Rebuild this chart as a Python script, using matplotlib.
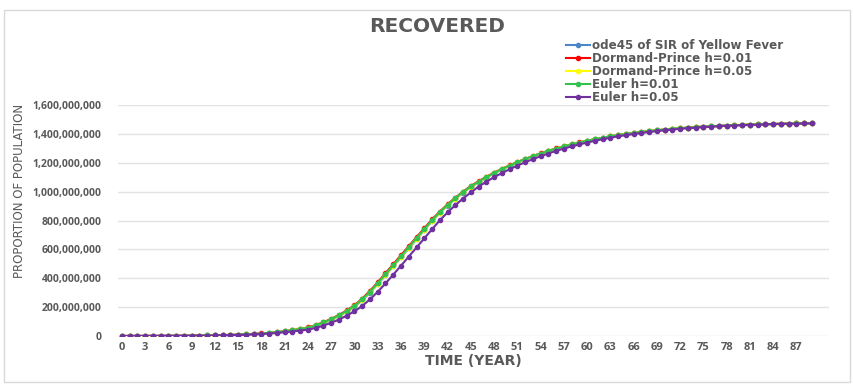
import numpy as np
import matplotlib.pyplot as plt
from matplotlib.patches import Rectangle

# time steps (years)
time = list(range(90))

# recovered, in millions of people
ode45 = [0.3, 0.4, 0.5, 0.6, 0.8, 1.0, 1.3, 1.6, 2.0, 2.5,
         3.1, 3.9, 4.8, 6.0, 7.4, 9.2, 11, 14, 17, 21,
         26, 32, 39, 46, 55, 70, 90, 112, 138, 168,
         203, 247, 300, 358, 420, 482, 545, 607, 670, 733,
         795, 851, 902, 949, 992, 1032, 1065, 1097, 1126, 1153,
         1178, 1201, 1223, 1243, 1262, 1280, 1297, 1312, 1326, 1339,
         1351, 1362, 1372, 1382, 1391, 1399, 1406, 1413, 1419, 1425,
         1430, 1435, 1439, 1443, 1447, 1450, 1453, 1455, 1458, 1460,
         1462, 1464, 1466, 1467, 1469, 1470, 1471, 1472, 1473, 1474]
dp_001 = [0.3, 0.4, 0.5, 0.6, 0.8, 1.0, 1.3, 1.7, 2.1, 2.6,
          3.2, 4.0, 5.0, 6.2, 7.7, 9.6, 12, 15, 18, 22,
          27, 34, 41, 49, 59, 75, 96, 119, 146, 177,
          213, 259, 313, 372, 435, 497, 560, 622, 684, 746,
          807, 862, 912, 958, 1000, 1039, 1072, 1103, 1131, 1158,
          1182, 1205, 1226, 1246, 1265, 1283, 1299, 1314, 1328, 1341,
          1353, 1363, 1373, 1383, 1392, 1400, 1407, 1413, 1419, 1425,
          1430, 1435, 1439, 1443, 1447, 1450, 1453, 1455, 1458, 1460,
          1462, 1464, 1466, 1467, 1469, 1470, 1471, 1472, 1473, 1474]
dp_005 = [0.3, 0.4, 0.5, 0.6, 0.8, 1.0, 1.3, 1.6, 2.0, 2.5,
          3.1, 3.9, 4.9, 6.1, 7.5, 9.3, 11, 14, 17, 21,
          26, 33, 40, 47, 56, 72, 92, 114, 140, 171,
          206, 251, 304, 362, 424, 486, 549, 611, 674, 736,
          798, 854, 905, 952, 995, 1034, 1067, 1099, 1128, 1155,
          1179, 1202, 1224, 1244, 1263, 1281, 1298, 1313, 1327, 1340,
          1352, 1362, 1372, 1382, 1391, 1399, 1406, 1413, 1419, 1425,
          1430, 1435, 1439, 1443, 1447, 1450, 1453, 1455, 1458, 1460,
          1462, 1464, 1466, 1467, 1469, 1470, 1471, 1472, 1473, 1474]
euler_001 = [0.3, 0.4, 0.5, 0.6, 0.8, 1.0, 1.3, 1.6, 2.0, 2.5,
             3.2, 4.0, 4.9, 6.1, 7.6, 9.4, 12, 14, 17, 22,
             27, 33, 40, 48, 57, 73, 94, 116, 143, 174,
             209, 254, 307, 366, 428, 490, 553, 615, 678, 740,
             802, 858, 908, 955, 997, 1036, 1069, 1100, 1129, 1156,
             1180, 1203, 1225, 1245, 1264, 1282, 1298, 1313, 1327, 1340,
             1352, 1363, 1373, 1382, 1391, 1399, 1406, 1413, 1419, 1425,
             1430, 1435, 1439, 1443, 1447, 1450, 1453, 1455, 1458, 1460,
             1462, 1464, 1466, 1467, 1469, 1470, 1471, 1472, 1473, 1474]
euler_005 = [0.3, 0.3, 0.4, 0.5, 0.6, 0.8, 1.0, 1.3, 1.6, 2.0,
             2.5, 3.0, 3.8, 4.7, 5.8, 7.2, 9.0, 11, 14, 17,
             21, 26, 31, 38, 44, 56, 72, 92, 114, 141,
             171, 208, 254, 306, 364, 425, 487, 550, 613, 676,
             739, 801, 856, 906, 952, 994, 1035, 1068, 1100, 1128,
             1155, 1180, 1203, 1225, 1245, 1264, 1282, 1298, 1313, 1327,
             1340, 1352, 1363, 1373, 1383, 1391, 1399, 1406, 1413, 1419,
             1425, 1430, 1435, 1439, 1443, 1447, 1450, 1453, 1456, 1458,
             1460, 1462, 1464, 1466, 1467, 1469, 1470, 1471, 1472, 1473]

labels = ["ode45 of SIR of Yellow Fever", "Dormand-Prince h=0.01",
          "Dormand-Prince h=0.05", "Euler h=0.01", "Euler h=0.05"]
colors = ["#4A86C8", "#FF0000", "#FFFF00", "#33C24D", "#7030A0"]
series = [ode45, dp_001, dp_005, euler_001, euler_005]

gray = "#595959"
plt.rcParams['font.family'] = ['Open Sans', 'DejaVu Sans']

fig = plt.figure(figsize=(8.54, 3.85), dpi=100)
ax = fig.add_axes([118 / 854, 1 - 336 / 385, 711 / 854, 231 / 385])

x = np.array(time)
for vals, lab, col in zip(series, labels, colors):
    ax.plot(x, np.array(vals) * 1e6, color=col, lw=1.5, marker='o', ms=3.0,
            label=lab)

ax.set_xlim(-0.5, 91.2)
ax.set_ylim(0, 1.6e9)
ax.set_yticks(np.arange(0, 1.6e9 + 1, 2e8))
ax.set_yticklabels([f"{int(v):,}" for v in np.arange(0, 1.6e9 + 1, 2e8)])
ax.set_xticks(x[::3])
ax.set_xticklabels([str(t) for t in time[::3]])
ax.tick_params(length=0, labelsize=7.5, labelcolor=gray)
ax.tick_params(axis='y', pad=12)
ax.tick_params(axis='x', pad=4)
for lbl in ax.get_xticklabels() + ax.get_yticklabels():
    lbl.set_fontweight('bold')
for lbl in ax.get_xticklabels():
    lbl.set_fontsize(8)
ax.grid(axis='y', color='#E3E3E3', lw=1)
ax.set_axisbelow(True)
for s in ax.spines.values():
    s.set_visible(False)

ax.set_xlabel("TIME (YEAR)", fontsize=10, fontweight='bold', color=gray,
              labelpad=1, family=['DejaVu Sans'])
fig.text(20 / 854, 1 - 191 / 385, "PROPORTION OF POPULATION", rotation=90,
         ha='center', va='center', fontsize=8.5, color=gray,
         family=['Liberation Sans Narrow', 'DejaVu Sans'])
fig.text(437 / 854, 1 - 26 / 385, "RECOVERED", ha='center', va='center',
         fontsize=14.5, fontweight='bold', color=gray, family=['DejaVu Sans'])

leg = fig.legend(loc='upper left', bbox_to_anchor=(560 / 854, 1 - 33 / 385),
                 frameon=False, handlelength=2.0,
                 handletextpad=0.15, labelspacing=0.0, borderpad=0,
                 prop={'family': 'DejaVu Sans', 'weight': 'bold', 'size': 8.6})
for t in leg.get_texts():
    t.set_color(gray)

fig.patches.append(Rectangle((4 / 854, 3 / 385), 846 / 854, 372 / 385,
                             transform=fig.transFigure, fill=False,
                             edgecolor='#D9D9D9', lw=1))

fig.savefig("out.png", dpi=100)
